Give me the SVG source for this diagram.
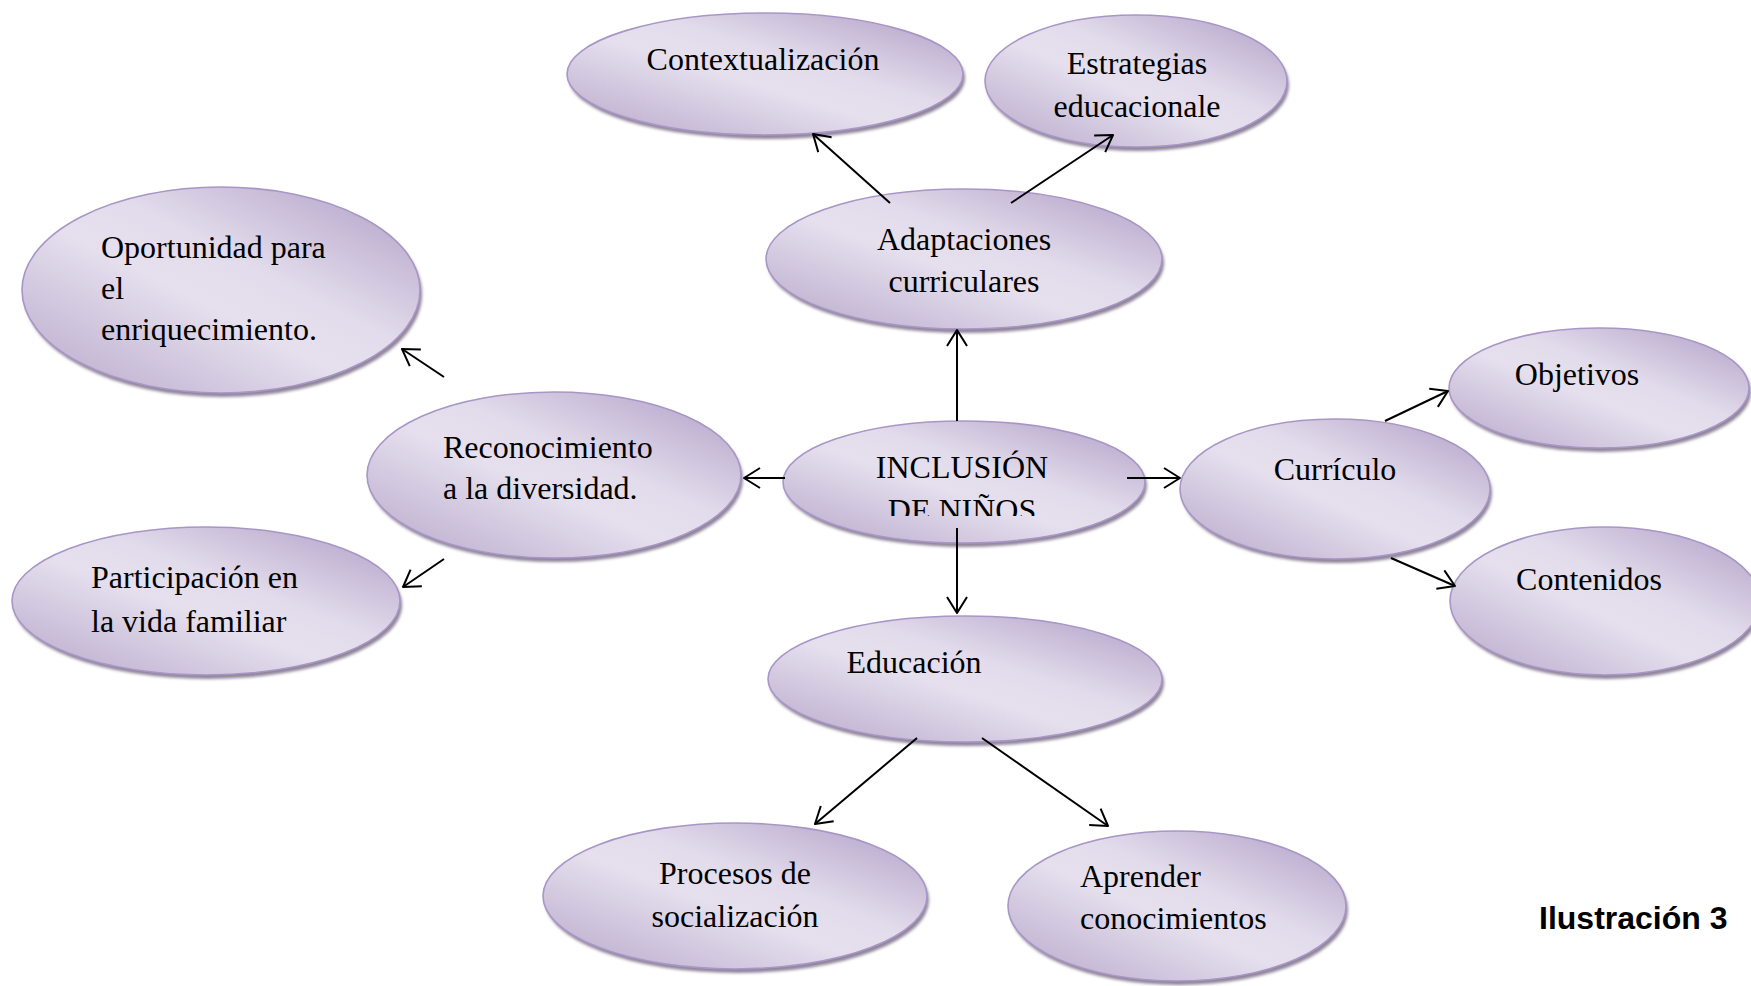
<svg xmlns="http://www.w3.org/2000/svg" width="1751" height="986" viewBox="0 0 1751 986">
<style>
.bg{fill:#ffffff}
.sh{fill:#8f8499;filter:url(#blur)}
.el{fill:url(#grad);stroke:#a896c6;stroke-width:1.6}
.t{font-family:"Liberation Serif","Times New Roman",serif;font-size:32px;fill:#000}
.c{text-anchor:middle}
.cap{font-family:"Liberation Sans",Arial,sans-serif;font-size:32px;font-weight:bold;fill:#000}
.ln{fill:none;stroke:#000;stroke-width:2;marker-end:url(#arr)}
</style>
<defs>
<linearGradient id="grad" x1="0" y1="1" x2="1" y2="0">
<stop offset="0" stop-color="#b6a6ca"/>
<stop offset="0.45" stop-color="#e6e0ee"/>
<stop offset="0.6" stop-color="#e2dbeb"/>
<stop offset="1" stop-color="#ae9cc5"/>
</linearGradient>
<filter id="blur" x="-10%" y="-10%" width="120%" height="130%"><feGaussianBlur stdDeviation="1.5"/></filter>
<marker id="arr" markerWidth="20" markerHeight="24" refX="17" refY="12" orient="auto" markerUnits="userSpaceOnUse"><path d="M1,2 L17,12 L1,22" fill="none" stroke="#000" stroke-width="2" stroke-linejoin="round"/></marker>
<clipPath id="incClip"><rect x="760" y="400" width="410" height="116"/></clipPath>
</defs>
<rect class="bg" x="0" y="0" width="1751" height="986"/>

<g id="node-contextualizacion">
<ellipse class="sh" cx="767" cy="78" rx="198" ry="61"/>
<ellipse class="el" cx="765" cy="74" rx="198" ry="61"/>
<text class="t c" x="763" y="70">Contextualización</text>
</g>

<g id="node-estrategias">
<ellipse class="sh" cx="1138" cy="85" rx="151" ry="66"/>
<ellipse class="el" cx="1136" cy="81" rx="151" ry="66"/>
<text class="t c" x="1137" y="74">Estrategias</text>
<text class="t c" x="1137" y="117">educacionale</text>
</g>

<g id="node-adaptaciones">
<ellipse class="sh" cx="966" cy="263" rx="198" ry="70"/>
<ellipse class="el" cx="964" cy="259" rx="198" ry="70"/>
<text class="t c" x="964" y="250">Adaptaciones</text>
<text class="t c" x="964" y="292">curriculares</text>
</g>

<g id="node-oportunidad">
<ellipse class="sh" cx="223" cy="294" rx="199" ry="103"/>
<ellipse class="el" cx="221" cy="290" rx="199" ry="103"/>
<text class="t" x="101" y="258">Oportunidad para</text>
<text class="t" x="101" y="299">el</text>
<text class="t" x="101" y="340">enriquecimiento.</text>
</g>

<g id="node-reconocimiento">
<ellipse class="sh" cx="556" cy="479" rx="187" ry="83"/>
<ellipse class="el" cx="554" cy="475" rx="187" ry="83"/>
<text class="t" x="443" y="458">Reconocimiento</text>
<text class="t" x="443" y="499">a la diversidad.</text>
</g>

<g id="node-participacion">
<ellipse class="sh" cx="208" cy="605" rx="194" ry="74"/>
<ellipse class="el" cx="206" cy="601" rx="194" ry="74"/>
<text class="t" x="91" y="588">Participación en</text>
<text class="t" x="91" y="632">la vida familiar</text>
</g>

<g id="node-inclusion">
<ellipse class="sh" cx="966" cy="486" rx="181" ry="61"/>
<ellipse class="el" cx="964" cy="482" rx="181" ry="61"/>
<g clip-path="url(#incClip)">
<text class="t c" x="962" y="478">INCLUSIÓN</text>
<text class="t c" x="962" y="521">DE NIÑOS</text>
</g>
</g>

<g id="node-curriculo">
<ellipse class="sh" cx="1337" cy="493" rx="155" ry="70"/>
<ellipse class="el" cx="1335" cy="489" rx="155" ry="70"/>
<text class="t c" x="1335" y="480">Currículo</text>
</g>

<g id="node-objetivos">
<ellipse class="sh" cx="1601" cy="392" rx="150" ry="60"/>
<ellipse class="el" cx="1599" cy="388" rx="150" ry="60"/>
<text class="t c" x="1577" y="385">Objetivos</text>
</g>

<g id="node-contenidos">
<ellipse class="sh" cx="1607" cy="605" rx="155" ry="74"/>
<ellipse class="el" cx="1605" cy="601" rx="155" ry="74"/>
<text class="t c" x="1589" y="590">Contenidos</text>
</g>

<g id="node-educacion">
<ellipse class="sh" cx="967" cy="683" rx="197" ry="63"/>
<ellipse class="el" cx="965" cy="679" rx="197" ry="63"/>
<text class="t c" x="914" y="673">Educación</text>
</g>

<g id="node-procesos">
<ellipse class="sh" cx="737" cy="900" rx="192" ry="73"/>
<ellipse class="el" cx="735" cy="896" rx="192" ry="73"/>
<text class="t c" x="735" y="884">Procesos de</text>
<text class="t c" x="735" y="927">socialización</text>
</g>

<g id="node-aprender">
<ellipse class="sh" cx="1179" cy="910" rx="169" ry="75"/>
<ellipse class="el" cx="1177" cy="906" rx="169" ry="75"/>
<text class="t" x="1080" y="887">Aprender</text>
<text class="t" x="1080" y="929">conocimientos</text>
</g>

<g id="connectors">
<line class="ln" x1="890" y1="203" x2="813" y2="134"/>
<line class="ln" x1="1011" y1="203" x2="1113" y2="135"/>
<line class="ln" x1="957" y1="421" x2="957" y2="330"/>
<line class="ln" x1="785" y1="478" x2="744" y2="478"/>
<line class="ln" x1="1127" y1="478" x2="1180" y2="478"/>
<line class="ln" x1="957" y1="528" x2="957" y2="613"/>
<line class="ln" x1="444" y1="377" x2="402" y2="349"/>
<line class="ln" x1="444" y1="559" x2="403" y2="587"/>
<line class="ln" x1="1385" y1="421" x2="1448" y2="391"/>
<line class="ln" x1="1391" y1="558" x2="1455" y2="586"/>
<line class="ln" x1="917" y1="738" x2="815" y2="824"/>
<line class="ln" x1="982" y1="738" x2="1108" y2="826"/>
</g>

<text id="caption" class="cap" x="1539" y="929">Ilustración 3</text>
</svg>
